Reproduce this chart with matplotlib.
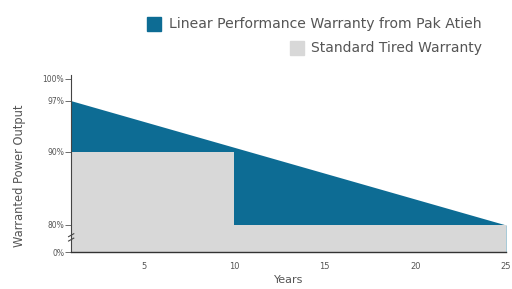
import matplotlib
matplotlib.use("Agg")
import matplotlib.pyplot as plt
import numpy as np

years = [1, 25]
linear_warranty = [97, 80]
tier_years = [1, 10, 10, 25]
tier_values = [90, 90, 80, 80]
ytick_vals = [100, 97, 90, 80]
ytick_labels = ["100%", "97%", "90%", "80%"]
xtick_vals = [5, 10, 15, 20, 25]

ZERO_POS = 76.3  # plotting position used for the 0% baseline (broken axis)

fig = plt.figure(figsize=(5.12, 2.89), dpi=100)
ax = fig.add_axes([0.139, 0.128, 0.849, 0.612])

blue = "#0d6c94"
grey = "#d8d8d8"

ax.fill_between(years, linear_warranty, ZERO_POS, color=blue, lw=0)
ax.fill_between(tier_years, tier_values, ZERO_POS, color=grey, lw=0)

ax.set_xlim(1, 25)
ax.set_ylim(ZERO_POS, 100.5)

ax.set_yticks(ytick_vals + [ZERO_POS])
ax.set_yticklabels(ytick_labels + ["0%"], fontsize=5.5, color="#555555")
ax.set_xticks(xtick_vals)
ax.set_xticklabels([str(v) for v in xtick_vals], fontsize=6, color="#555555")
ax.tick_params(axis="y", length=4, width=0.6, pad=1, colors="#555555")
ax.tick_params(axis="x", length=0, pad=7, colors="#555555")

for s in ["top", "right"]:
    ax.spines[s].set_visible(False)
ax.spines["left"].set_color("#444444")
ax.spines["left"].set_linewidth(0.8)
ax.spines["bottom"].set_color("#333333")
ax.spines["bottom"].set_linewidth(1.0)

# axis break marks
trans = ax.get_yaxis_transform()
for yb in [78.6, 78.0]:
    ax.plot([-0.006, 0.006], [yb - 0.2, yb + 0.2], transform=trans,
            color="#444444", lw=0.8, clip_on=False)

ax.set_ylabel("Warranted Power Output", fontsize=8.3, color="#555555", labelpad=14)
ax.yaxis.set_label_coords(-0.105, 0.43)
ax.set_xlabel("Years", fontsize=8, color="#555555", labelpad=3)

# legend (right aligned)
fig.patches.append(plt.Rectangle((147/512, 1 - 31/289), 14/512, 14/289,
                                 transform=fig.transFigure, color=blue))
fig.text(482/512, 1 - 24/289, "Linear Performance Warranty from Pak Atieh",
         fontsize=10.1, color="#555555", va="center", ha="right")
fig.patches.append(plt.Rectangle((290/512, 1 - 55/289), 14/512, 14/289,
                                 transform=fig.transFigure, color=grey))
fig.text(482/512, 1 - 48/289, "Standard Tired Warranty",
         fontsize=10, color="#555555", va="center", ha="right")

fig.savefig("out.png", dpi=100)
